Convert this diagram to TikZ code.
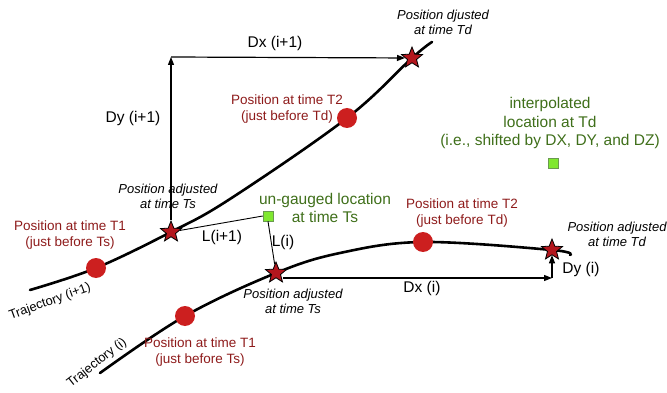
\documentclass[tikz,border=0pt]{standalone}
\usepackage{fontspec}
\setmainfont{Liberation Sans}
\usetikzlibrary{shapes.geometric,arrows.meta}
\definecolor{darkred}{HTML}{8E1B1B}
\definecolor{dotred}{HTML}{CC1F1F}
\definecolor{starred}{HTML}{B3161D}
\definecolor{txtgreen}{HTML}{3F6F1A}
\definecolor{limesq}{HTML}{80E830}
\definecolor{sqborder}{HTML}{6A9A50}
\begin{document}
\begin{tikzpicture}[x=1pt,y=-1pt,
  traj/.style={line width=2.6pt, line cap=round},
  dot/.style={circle, fill=dotred, minimum size=20pt, inner sep=0pt},
  starnode/.style={star, star points=5, star point ratio=2.3, fill=starred, draw=black, line width=0.8pt, minimum size=22pt, inner sep=0pt},
  sqnode/.style={rectangle, fill=limesq, draw=sqborder, line width=0.5pt, minimum size=10pt, inner sep=0pt},
  arr/.style={line width=1.2pt, -{Triangle[length=8pt,width=6pt]}},
  thin/.style={line width=0.9pt},
  lbl/.style={font=\fontsize{15.5}{18}\selectfont},
  redlbl/.style={text=darkred, align=center, font=\fontsize{13.5}{15.5}\selectfont},
  itlbl/.style={align=center, font=\fontsize{13}{15}\selectfont\itshape},
  grnlbl/.style={text=txtgreen, align=center, font=\fontsize{15.5}{18.5}\selectfont},
  trajlbl/.style={font=\fontsize{12.8}{15}\selectfont}
]
\useasboundingbox (0,0) rectangle (667,393);
% trajectory (i+1)
\coordinate (a0) at (30,290);
\coordinate (a1) at (96,268);
\coordinate (a2) at (171,232);
\coordinate (a3) at (230,199);
\coordinate (a4) at (347,118);
\coordinate (a5) at (412,58);
\coordinate (a6) at (432,42);
% trajectory (i)
\coordinate (b0) at (100,373);
\coordinate (b1) at (185,316);
\coordinate (b2) at (276,273);
\coordinate (b3) at (340,253);
\coordinate (b4) at (423,242);
\coordinate (b5) at (552,250);
\coordinate (b6) at (570,255);
\draw[traj] plot[smooth, tension=0.6] coordinates {(a0) (a1) (a2) (a3) (a4) (a5) (a6)};
\draw[traj] plot[smooth, tension=0.6] coordinates {(b0) (b1) (b2) (b3) (b4) (b5) (b6)};
% markers
\node[dot] (c1) at (a1) {};
\node[dot] (c2) at (a4) {};
\node[dot] (c3) at (b1) {};
\node[dot] (c4) at (b4) {};
\node[starnode] (s1) at (a2) {};
\node[starnode] (s4) at (a5) {};
\node[starnode] (s2) at (b2) {};
\node[starnode] (s3) at (b5) {};
\coordinate (corner) at (171,57);
\coordinate (dxend) at (552,278);
% arrows
\draw[arr] (s1) -- (corner);
\draw[arr] (corner) -- (s4);
\draw[arr] (s2.east |- dxend) -- (dxend);
\draw[arr] (dxend) -- (s3);
% squares and L lines
\node[sqnode] (q1) at (268,216) {};
\node[sqnode] (q2) at (553,163) {};
\draw[thin] (s1) -- (q1.west);
\draw[thin] (q1.south) -- (s2);
% labels
\node[itlbl] (t1) at (443,22) {Position djusted\\at time Td};
\node[lbl] (t2) at (275,43) {Dx (i+1)};
\node[lbl] (t3) at (133,118) {Dy (i+1)};
\node[redlbl] (t4) at (287,109) {Position at time T2\\(just before Td)};
\node[grnlbl] (t5) at (550,123) {interpolated\\location at Td\\(i.e., shifted by DX, DY, and DZ)};
\node[itlbl] (t6) at (168,196) {Position adjusted\\at time Ts};
\node[grnlbl] (t7) at (325,208) {un-gauged location\\at time Ts};
\node[lbl] (t8) at (222,237) {L(i+1)};
\node[lbl] (t9) at (283,242) {L(i)};
\node[redlbl] (t10) at (70,235) {Position at time T1\\(just before Ts)};
\node[trajlbl, rotate=20] (t11) at (50,302) {Trajectory (i+1)};
\node[trajlbl, rotate=38] (t12) at (97,363) {Trajectory (i)};
\node[redlbl] (t13) at (200,352) {Position at time T1\\(just before Ts)};
\node[itlbl] (t14) at (293,301) {Position adjusted\\at time Ts};
\node[lbl] (t15) at (422,288) {Dx (i)};
\node[lbl] (t16) at (581,269) {Dy (i)};
\node[redlbl] (t17) at (462,213) {Position at time T2\\(just before Td)};
\node[itlbl] (t18) at (617,234) {Position adjusted\\at time Td};
\end{tikzpicture}
\end{document}
